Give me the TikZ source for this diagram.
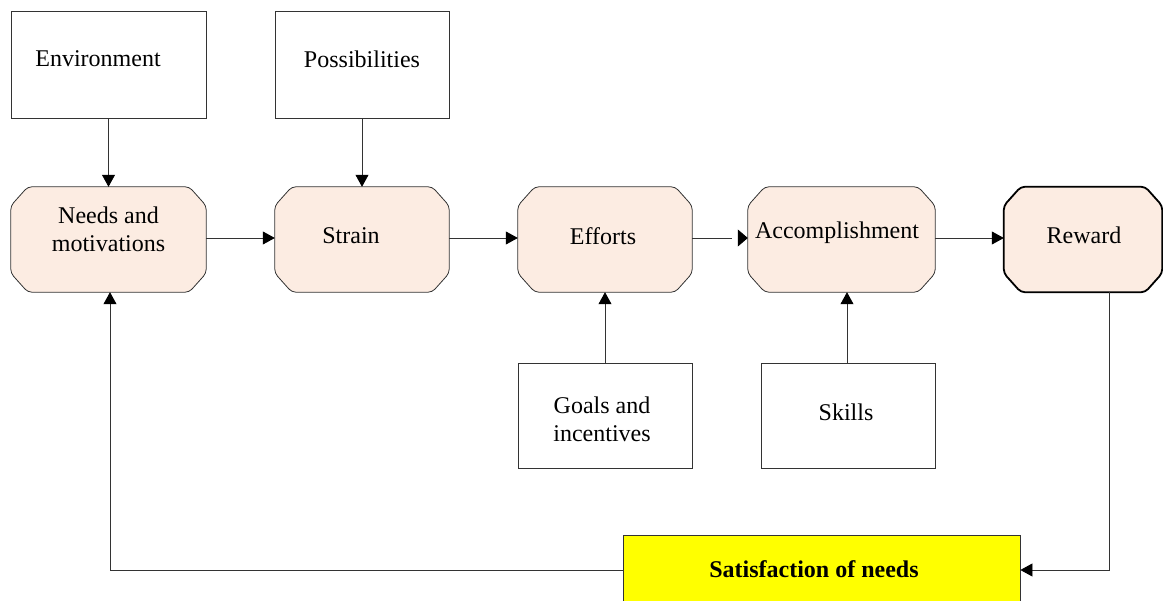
\documentclass[tikz,border=0pt]{standalone}
\usepackage{fontspec}
\setmainfont{Liberation Serif}
\usetikzlibrary{calc,arrows.meta}
\definecolor{peach}{RGB}{252,236,226}
\definecolor{satyellow}{RGB}{255,255,0}
\newcommand\chamfshape[2][]{%
  \draw[procline,#1] ($(#2.north west)+(17,0)$) -- ($(#2.north east)+(-17,0)$)
    -- ($(#2.north east)+(0,19)$) -- ($(#2.south east)+(0,-19)$)
    -- ($(#2.south east)+(-17,0)$) -- ($(#2.south west)+(17,0)$)
    -- ($(#2.south west)+(0,-19)$) -- ($(#2.north west)+(0,19)$) -- cycle;}
\begin{document}
\begin{tikzpicture}[x=1pt,y=-1pt,
  every node/.style={font=\fontsize{24}{28}\selectfont},
  plainbox/.style={draw=black!80,line width=0.8pt,fill=white,inner sep=0pt},
  procbox/.style={inner sep=0pt,draw=none},
  procline/.style={draw=black!80,line width=0.8pt,fill=peach,rounded corners=4pt},
  lbl/.style={align=center,inner sep=0pt},
  arr/.style={draw=black!80,line width=0.8pt,-{Triangle[length=12pt,width=13pt,color=black]}},
  gaparr/.style={draw=black!80,line width=0.8pt,-{Triangle[length=10pt,width=17pt,color=black]}}]
\useasboundingbox (0,0) rectangle (1163,601);
% plain boxes
\node[plainbox,minimum width=195pt,minimum height=107pt] (env) at (108.5,64.5) {};
\node[lbl] at (98,59) {Environment};
\node[plainbox,minimum width=174pt,minimum height=107pt] (pos) at (362,64.5) {};
\node[lbl] at (362,59) {Possibilities};
\node[plainbox,minimum width=174pt,minimum height=105pt] (goals) at (605,415.5) {};
\node[lbl] at (602,419.5) {Goals and\\incentives};
\node[plainbox,minimum width=174pt,minimum height=105pt] (skills) at (848,415.5) {};
\node[lbl] at (846,412) {Skills};
\node[plainbox,fill=satyellow,minimum width=397pt,minimum height=90pt] (sat) at (821.5,580) {};
\node[lbl,font=\fontsize{24}{28}\selectfont\bfseries] at (814,569) {Satisfaction of needs};
% process boxes
\node[procbox,minimum width=195pt,minimum height=105pt] (needs) at (108.5,239.5) {};
\chamfshape{needs}
\node[lbl] at (108.5,229) {Needs and\\motivations};
\node[procbox,minimum width=174pt,minimum height=105pt] (strain) at (362,239.5) {};
\chamfshape{strain}
\node[lbl] at (351,236) {Strain};
\node[procbox,minimum width=174pt,minimum height=105pt] (eff) at (605,239.5) {};
\chamfshape{eff}
\node[lbl] at (603,236) {Efforts};
\node[procbox,minimum width=187pt,minimum height=105pt] (acc) at (841.5,239.5) {};
\chamfshape{acc}
\node[lbl] at (837,233) {Accomplishment};
\node[procbox,minimum width=158pt,minimum height=105pt] (rew) at (1083,239.5) {};
\chamfshape[line width=1.8pt,draw=black]{rew}
\node[lbl] at (1084,235) {Reward};
% connectors
\draw[arr] (env.south) -- (needs.north);
\draw[arr] (pos.south) -- (strain.north);
\draw[arr] (needs.east |- 0,238) -- (strain.west |- 0,238);
\draw[arr] (strain.east |- 0,238) -- (eff.west |- 0,238);
\coordinate (eagap) at ($(acc.west |- 0,238)+(-16,0)$);
\coordinate (eatip) at ($(acc.west |- 0,238)+(-10,0)$);
\draw[draw=black!80,line width=0.8pt] (eff.east |- 0,238) -- (eagap);
\draw[gaparr] (eatip) -- (acc.west |- 0,238);
\draw[arr] (acc.east |- 0,238) -- (rew.west |- 0,238);
\draw[arr] (goals.north) -- (eff.south);
\draw[arr] (skills.north -| 847,0) -- (acc.south -| 847,0);
\coordinate (rb) at (1109,570);
\draw[arr] (rew.south -| rb) -- (rb) -- (sat.east |- rb);
\coordinate (lb) at (110,570);
\draw[arr] (sat.west |- lb) -- (lb) -- (needs.south -| lb);
\end{tikzpicture}
\end{document}
